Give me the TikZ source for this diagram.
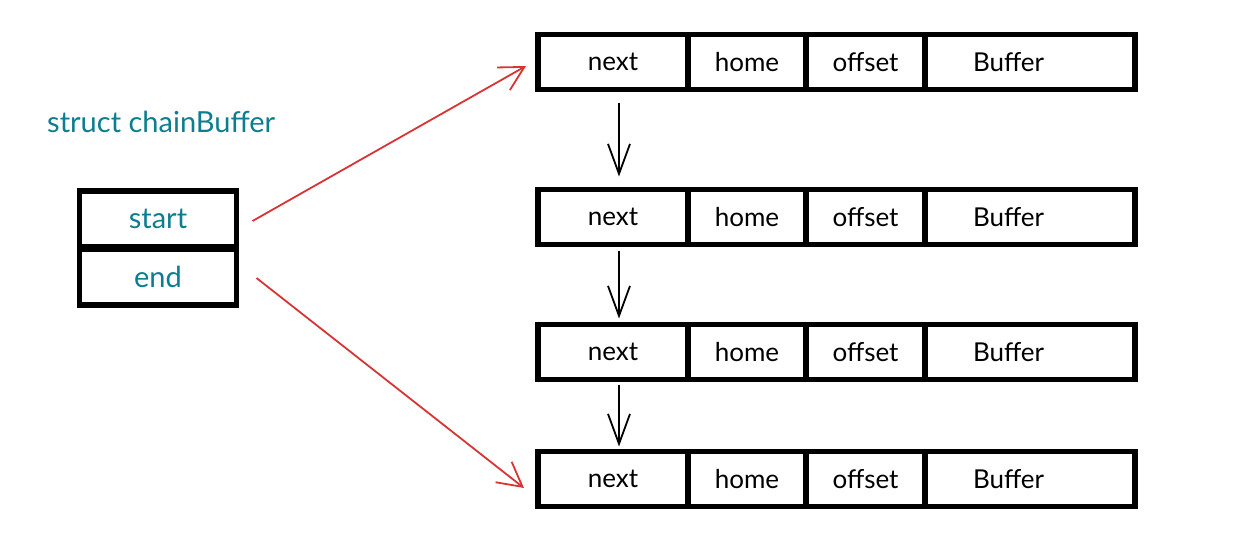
\documentclass[tikz,border=0pt]{standalone}
\usepackage{fontspec}
\setmainfont{Lato}
\usetikzlibrary{arrows.meta}
\definecolor{teal}{HTML}{0C7E8F}
\definecolor{redarrow}{HTML}{D93434}
\tikzset{
  cell/.style={draw=black, line width=5.5pt, fill=white, minimum height=55pt, inner sep=0pt, outer sep=0pt, font=\fontsize{26}{30}\selectfont, anchor=west},
  sfield/.style={draw=black, line width=5.5pt, fill=white, minimum width=157pt, minimum height=56pt, inner sep=0pt, outer sep=0pt, font=\fontsize{29}{32}\selectfont, text=teal},
  redlink/.style={draw=redarrow, line width=1.8pt, -{Straight Barb[length=24pt,width=26pt,line width=1.8pt]}},
  blacklink/.style={draw=black, line width=1.8pt, -{Straight Barb[length=30pt,width=22pt,line width=1.8pt]}},
}
\begin{document}
\begin{tikzpicture}[x=1pt,y=-1pt]
\useasboundingbox (0,0) rectangle (1253,552);
% struct title
\node[font=\fontsize{29}{32}\selectfont, text=teal, anchor=west, inner sep=0pt] (title) at (47,122) {struct chainBuffer};
% struct fields
\node[sfield] (start) at (158,219) {start};
\node[sfield] (end) at (158,277) {end};
% rows
\foreach \r/\y in {1/62, 2/217, 3/352, 4/479} {
  \node[cell, minimum width=150pt] (next\r) at (538,\y) {next};
  \node[cell, minimum width=118pt] (home\r) at (next\r.east) {home};
  \node[cell, minimum width=119pt] (offset\r) at (home\r.east) {offset};
  \node[cell, minimum width=210pt, text width=190pt, align=left] (buffer\r) at (offset\r.east) {\hspace*{38pt}Buffer};
}
% red arrows
\draw[redlink] ([xshift=16pt,yshift=-2pt]start.east) -- ([xshift=-12pt,yshift=-4pt]next1.west);
\draw[redlink] ([xshift=20pt,yshift=-1pt]end.east) -- ([xshift=-14pt,yshift=-9pt]next4.west);
% black arrows
\draw[blacklink] ([xshift=6pt,yshift=-13pt]next1.south) -- ([xshift=6pt,yshift=13pt]next2.north);
\draw[blacklink] ([xshift=6pt,yshift=-6pt]next2.south) -- ([xshift=6pt,yshift=6pt]next3.north);
\draw[blacklink] ([xshift=6pt,yshift=-5pt]next3.south) -- ([xshift=6pt,yshift=5pt]next4.north);
\end{tikzpicture}
\end{document}
